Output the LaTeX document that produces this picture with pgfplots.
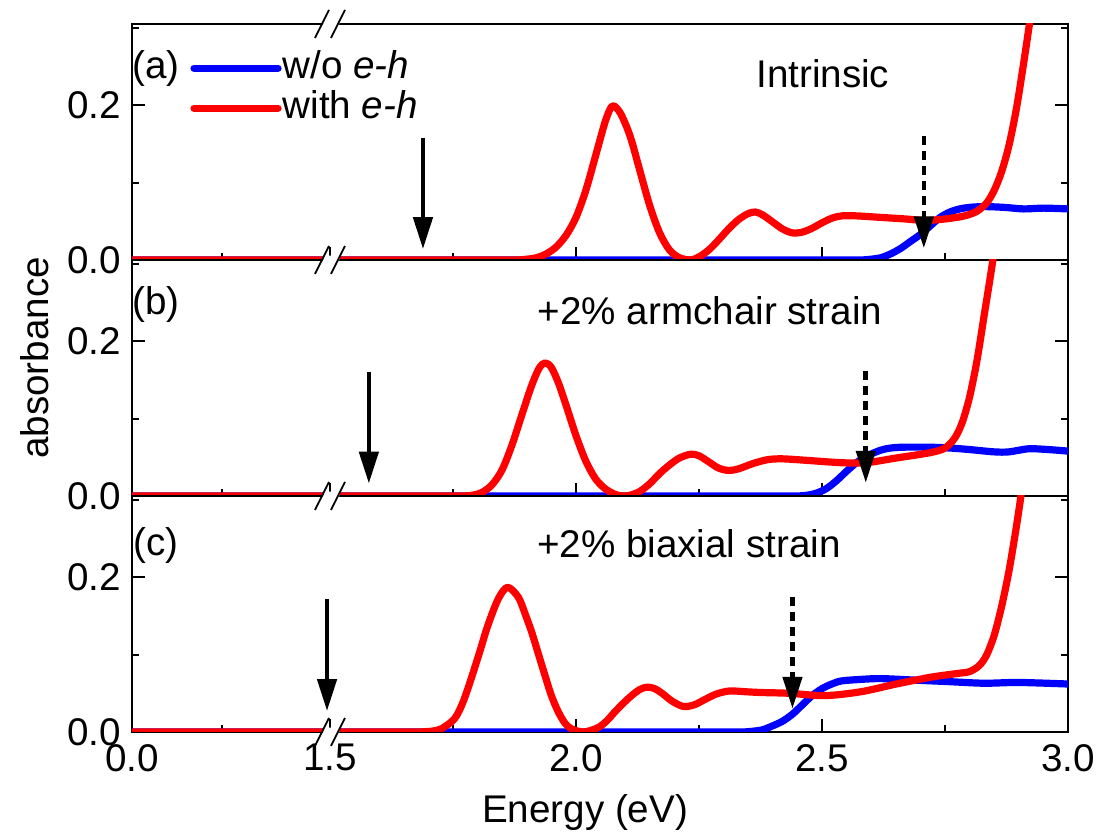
\documentclass[border=0pt]{standalone}
\usepackage{fontspec}
\setmainfont{Liberation Sans}
\usepackage{pgfplots}
\pgfplotsset{compat=1.18}
\usetikzlibrary{arrows.meta}

\definecolor{cblue}{RGB}{0,0,255}
\definecolor{cred}{RGB}{255,0,0}
\newcommand\bigf{\fontsize{19.3}{22}\selectfont}

\tikzset{
  sarrow/.style={line width=2.3pt, -{Triangle[length=16pt,width=9.5pt]}},
  darrow/.style={line width=2.3pt, dash pattern=on 4.5pt off 3pt, -{Triangle[length=16pt,width=9.5pt]}},
}
\pgfplotsset{
  panel/.style={
    scale only axis, width=468pt, height=118pt,
    xmin=1.0976, xmax=3.0, ymin=0, ymax=0.305,
    xtick={1.0976,1.5,2.0,2.5,3.0},
    minor xtick={1.2805,1.75,2.25,2.75},
    ytick={0,0.2}, yticklabels={0.0,0.2},
    minor ytick={0.1,0.3},
    tick align=inside, xtick pos=left, ytick pos=both,
    major tick length=6.5pt, minor tick length=3.5pt,
    axis line style={line width=1pt},
    every tick/.style={line width=1pt, black},
    tick label style={font=\bigf},
    yticklabel style={xshift=-2pt},
    xticklabel style={yshift=-2.5pt},
    label style={font=\bigf},
  },
  noeh/.style={cblue, line width=3.6pt, smooth, tension=0.5, line cap=round, line join=round},
  eh/.style={cred, line width=3.6pt, smooth, tension=0.5, line cap=round, line join=round},
}

\begin{document}
\begin{tikzpicture}
\useasboundingbox (-66pt,-53pt) rectangle (483.5pt,366pt);

% ---------------- panel (a)
\begin{axis}[panel, at={(0pt,236pt)}, anchor=south west, xticklabels={},
  legend style={at={(rel axis cs:0.062,0.895)}, anchor=north west, draw=none, fill=none,
    inner sep=0pt, font=\bigf, row sep=1pt,
    nodes={inner sep=0.5pt, text height=14pt, text depth=4pt}},
  legend cell align=left,
  legend image code/.code={\draw[#1] (0pt,0pt) -- (42pt,0pt);},
]
\addplot[noeh] coordinates {(1.0976,0) (1.3,0) (1.5,0) (1.7,0) (1.9,0) (2.1,0) (2.3,0) (2.45,0) (2.52,0) (2.56,0) (2.58,0) (2.60,0.001) (2.62,0.003) (2.64,0.008) (2.66,0.015) (2.68,0.024) (2.70,0.033) (2.72,0.044) (2.74,0.055) (2.76,0.062) (2.78,0.066) (2.80,0.068) (2.83,0.069) (2.87,0.068) (2.91,0.066) (2.95,0.067) (3.0,0.066)};
\addlegendentry{w/o \textit{e-h}}
\addplot[eh] coordinates {(1.0976,0) (1.3,0) (1.5,0) (1.7,0) (1.78,0) (1.83,0) (1.86,0) (1.88,0) (1.90,0.001) (1.92,0.003) (1.94,0.008) (1.96,0.017) (1.98,0.032) (2.00,0.055) (2.02,0.090) (2.04,0.135) (2.06,0.180) (2.074,0.199) (2.09,0.190) (2.11,0.160) (2.13,0.115) (2.15,0.070) (2.17,0.035) (2.19,0.013) (2.21,0.003) (2.233,0.000) (2.25,0.004) (2.27,0.013) (2.29,0.026) (2.31,0.040) (2.33,0.052) (2.35,0.060) (2.365,0.062) (2.38,0.058) (2.40,0.049) (2.42,0.040) (2.44,0.035) (2.46,0.036) (2.48,0.041) (2.50,0.048) (2.52,0.054) (2.54,0.057) (2.57,0.057) (2.62,0.055) (2.67,0.053) (2.71,0.051) (2.75,0.053) (2.79,0.057) (2.815,0.063) (2.835,0.074) (2.85,0.090) (2.865,0.114) (2.88,0.148) (2.895,0.195) (2.91,0.255) (2.925,0.32) (2.935,0.37)};
\addlegendentry{with \textit{e-h}}
\node[font=\bigf] at (rel axis cs:0.0256,0.81) {(a)};
\node[font=\bigf] at (rel axis cs:0.738,0.788) {Intrinsic};
\draw[sarrow] (axis cs:1.689,0.158) -- (axis cs:1.689,0.014);
\draw[darrow] (axis cs:2.707,0.160) -- (axis cs:2.707,0.015);
\end{axis}

% ---------------- panel (b)
\begin{axis}[panel, at={(0pt,118pt)}, anchor=south west, xticklabels={},
  ylabel={absorbance},
  ylabel style={at={(axis description cs:-0.1036,0.585)}, anchor=center},
]
\addplot[noeh] coordinates {(1.0976,0) (1.3,0) (1.5,0) (1.7,0) (1.9,0) (2.1,0) (2.25,0) (2.35,0) (2.40,0) (2.43,0) (2.45,0) (2.47,0.001) (2.49,0.004) (2.51,0.010) (2.53,0.020) (2.55,0.032) (2.57,0.043) (2.59,0.051) (2.61,0.057) (2.63,0.061) (2.66,0.063) (2.72,0.063) (2.76,0.062) (2.80,0.060) (2.85,0.057) (2.88,0.057) (2.92,0.061) (2.96,0.060) (3.0,0.058)};
\addplot[eh] coordinates {(1.0976,0) (1.3,0) (1.5,0) (1.62,0) (1.69,0) (1.73,0) (1.755,0) (1.77,0) (1.79,0.001) (1.81,0.005) (1.83,0.015) (1.85,0.034) (1.87,0.066) (1.89,0.105) (1.91,0.143) (1.925,0.165) (1.937,0.172) (1.95,0.166) (1.965,0.145) (1.98,0.117) (2.00,0.078) (2.02,0.045) (2.04,0.022) (2.06,0.009) (2.08,0.002) (2.095,0.0) (2.11,0.001) (2.13,0.006) (2.15,0.016) (2.17,0.029) (2.19,0.040) (2.21,0.049) (2.233,0.054) (2.25,0.052) (2.27,0.044) (2.29,0.036) (2.31,0.033) (2.33,0.035) (2.36,0.042) (2.39,0.047) (2.42,0.048) (2.47,0.046) (2.54,0.043) (2.59,0.043) (2.65,0.049) (2.72,0.056) (2.75,0.062) (2.77,0.075) (2.785,0.095) (2.80,0.128) (2.815,0.175) (2.83,0.235) (2.845,0.295) (2.855,0.34)};
\node[font=\bigf] at (rel axis cs:0.0256,0.81) {(b)};
\node[font=\bigf] at (rel axis cs:0.6175,0.784) {+2\% armchair strain};
\draw[sarrow] (axis cs:1.579,0.160) -- (axis cs:1.579,0.016);
\draw[darrow] (axis cs:2.589,0.162) -- (axis cs:2.589,0.017);
\end{axis}

% ---------------- panel (c)
\begin{axis}[panel, at={(0pt,0pt)}, anchor=south west,
  xticklabels={0.0,1.5,2.0,2.5,3.0},
  xlabel={Energy (eV)},
  xlabel style={at={(axis description cs:0.484,-0.343)}, anchor=center},
]
\addplot[noeh] coordinates {(1.0976,0) (1.3,0) (1.5,0) (1.7,0) (1.9,0) (2.1,0) (2.22,0) (2.29,0) (2.32,0) (2.34,0) (2.36,0.001) (2.38,0.003) (2.40,0.008) (2.42,0.014) (2.44,0.023) (2.46,0.035) (2.48,0.047) (2.50,0.056) (2.52,0.062) (2.54,0.066) (2.58,0.068) (2.62,0.069) (2.69,0.067) (2.76,0.065) (2.83,0.063) (2.90,0.064) (3.0,0.062)};
\addplot[eh] coordinates {(1.0976,0) (1.3,0) (1.45,0) (1.55,0) (1.61,0) (1.645,0) (1.665,0) (1.68,0) (1.706,0.001) (1.726,0.004) (1.753,0.017) (1.77,0.038) (1.787,0.069) (1.805,0.105) (1.821,0.138) (1.842,0.172) (1.861,0.187) (1.883,0.174) (1.897,0.152) (1.910,0.129) (1.924,0.100) (1.937,0.073) (1.950,0.047) (1.964,0.026) (1.978,0.011) (1.991,0.004) (2.012,0.0) (2.03,0.002) (2.046,0.006) (2.062,0.014) (2.079,0.026) (2.096,0.037) (2.113,0.047) (2.13,0.055) (2.145,0.058) (2.16,0.056) (2.175,0.050) (2.195,0.040) (2.218,0.033) (2.24,0.035) (2.262,0.042) (2.285,0.049) (2.312,0.053) (2.345,0.052) (2.377,0.051) (2.434,0.050) (2.506,0.047) (2.579,0.052) (2.651,0.062) (2.723,0.071) (2.78,0.076) (2.80,0.078) (2.82,0.086) (2.835,0.100) (2.85,0.125) (2.865,0.162) (2.88,0.208) (2.895,0.265) (2.91,0.33) (2.92,0.38)};
\node[font=\bigf] at (rel axis cs:0.0256,0.79) {(c)};
\node[font=\bigf] at (rel axis cs:0.595,0.797) {+2\% biaxial strain};
\draw[sarrow] (axis cs:1.494,0.172) -- (axis cs:1.494,0.027);
\draw[darrow] (axis cs:2.440,0.174) -- (axis cs:2.440,0.030);
\end{axis}

% ---------------- axis break marks
\foreach \L in {0,118,236,354}{
  \fill[white] (95pt,\L pt-2.2pt) -- (96.2pt,\L pt+2.2pt) -- (104.2pt,\L pt+2.2pt) -- (103pt,\L pt-2.2pt) -- cycle;
  \draw[line width=0.9pt] (91.5pt,\L pt-7pt) -- (98.5pt,\L pt+7pt);
  \draw[line width=0.9pt] (99.5pt,\L pt-7pt) -- (106.5pt,\L pt+7pt);
}
\end{tikzpicture}
\end{document}
